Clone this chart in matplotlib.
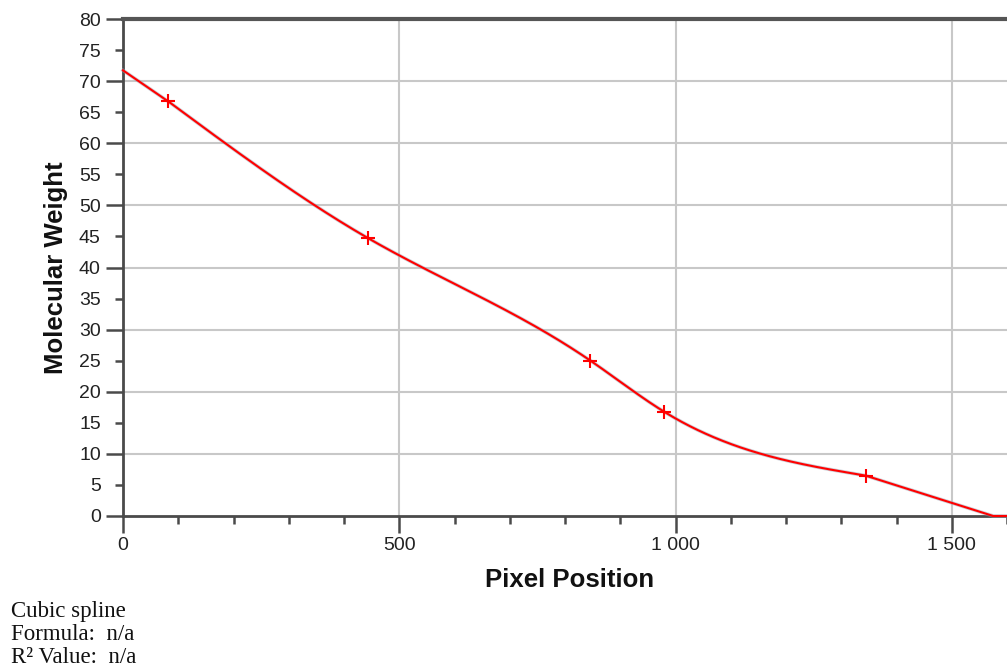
import matplotlib.pyplot as plt
import numpy as np
from matplotlib.ticker import MultipleLocator, FuncFormatter

# calibration points (pixel position, molecular weight)
pix = [81, 444, 846, 979, 1344]
mw = [66.8, 44.7, 25.0, 16.8, 6.5]


def cubic_spline(xk, yk, xs):
    """natural cubic spline; outside the knots it goes on along the end chords"""
    xk = np.asarray(xk, float)
    yk = np.asarray(yk, float)
    n = len(xk)
    h = np.diff(xk)
    A = np.zeros((n, n))
    b = np.zeros(n)
    A[0, 0] = A[-1, -1] = 1
    for i in range(1, n - 1):
        A[i, i - 1] = h[i - 1]
        A[i, i] = 2 * (h[i - 1] + h[i])
        A[i, i + 1] = h[i]
        b[i] = 6 * ((yk[i + 1] - yk[i]) / h[i] - (yk[i] - yk[i - 1]) / h[i - 1])
    M = np.linalg.solve(A, b)
    out = np.empty_like(xs)
    for j, x in enumerate(xs):
        if x <= xk[0]:
            out[j] = yk[0] + (yk[1] - yk[0]) / h[0] * (x - xk[0])
        elif x >= xk[-1]:
            out[j] = yk[-1] + (yk[-1] - yk[-2]) / h[-1] * (x - xk[-1])
        else:
            i = min(np.searchsorted(xk, x) - 1, n - 2)
            t1 = xk[i + 1] - x
            t0 = x - xk[i]
            out[j] = (M[i] * t1**3 + M[i + 1] * t0**3) / (6 * h[i]) \
                + (yk[i] / h[i] - M[i] * h[i] / 6) * t1 \
                + (yk[i + 1] / h[i] - M[i + 1] * h[i] / 6) * t0
    return out


xs = np.linspace(0, 1618, 900)
ys = np.maximum(cubic_spline(pix, mw, xs), 0)

fig = plt.figure(figsize=(10.07, 6.68), dpi=100)
ax = fig.add_axes([123 / 1007, 1 - 516 / 668, 1 - 123 / 1007 + 0.01, (516 - 19) / 668])

ax.plot(xs, ys, color='#9aa0b0', lw=2.6, zorder=3, clip_on=False, alpha=0.5)
ax.plot(xs, ys, color='red', lw=1.5, zorder=4, clip_on=False)
ax.plot(pix, mw, '+', color='red', ms=10, mew=1.5, zorder=5)

ax.set_xlim(0, 1618)
ax.set_ylim(0, 80)
ax.yaxis.set_major_locator(MultipleLocator(10))
ax.yaxis.set_minor_locator(MultipleLocator(5))
ax.yaxis.set_minor_formatter(FuncFormatter(lambda v, p: f'{int(v)}'))
ax.xaxis.set_major_locator(MultipleLocator(500))
ax.xaxis.set_minor_locator(MultipleLocator(100))
ax.xaxis.set_major_formatter(FuncFormatter(lambda v, p: f'{int(v):,}'.replace(',', ' ')))

for v in range(10, 80, 10):
    ax.axhline(v, color='#c8c8c8', lw=1.5, zorder=1)
for v in (500, 1000, 1500):
    ax.axvline(v, color='#c8c8c8', lw=1.5, zorder=1)

for s in ('left', 'bottom'):
    ax.spines[s].set_color('#4a4a4a')
    ax.spines[s].set_linewidth(2)
ax.spines['top'].set_color('#555555')
ax.spines['top'].set_linewidth(3)
ax.spines['right'].set_visible(False)

tick_font = dict(labelsize=14, labelfontfamily='Liberation Sans', labelcolor='#222222')
ax.tick_params(axis='both', which='major', length=12, width=1.8, color='#4a4a4a', **tick_font)
ax.tick_params(axis='both', which='minor', length=6, width=1.8, color='#4a4a4a', **tick_font)
ax.tick_params(axis='y', which='major', pad=4)
ax.tick_params(axis='y', which='minor', pad=10)
ax.tick_params(axis='x', which='major', pad=3)

lab = dict(family='Liberation Sans', fontsize=18.5, fontweight='bold', color='#111111')
ax.set_xlabel('Pixel Position', labelpad=10, **lab)
ax.set_ylabel('Molecular Weight', labelpad=8, **lab)

serif = dict(family='Liberation Serif', fontsize=16.5, va='baseline', color='#111111')
fig.text(11 / 1007, 1 - 617 / 668, 'Cubic spline', **serif)
fig.text(11 / 1007, 1 - 640 / 668, 'Formula:  n/a', **serif)
fig.text(11 / 1007, 1 - 663 / 668, 'R² Value:  n/a', **serif)

fig.savefig('out.png', dpi=100)
